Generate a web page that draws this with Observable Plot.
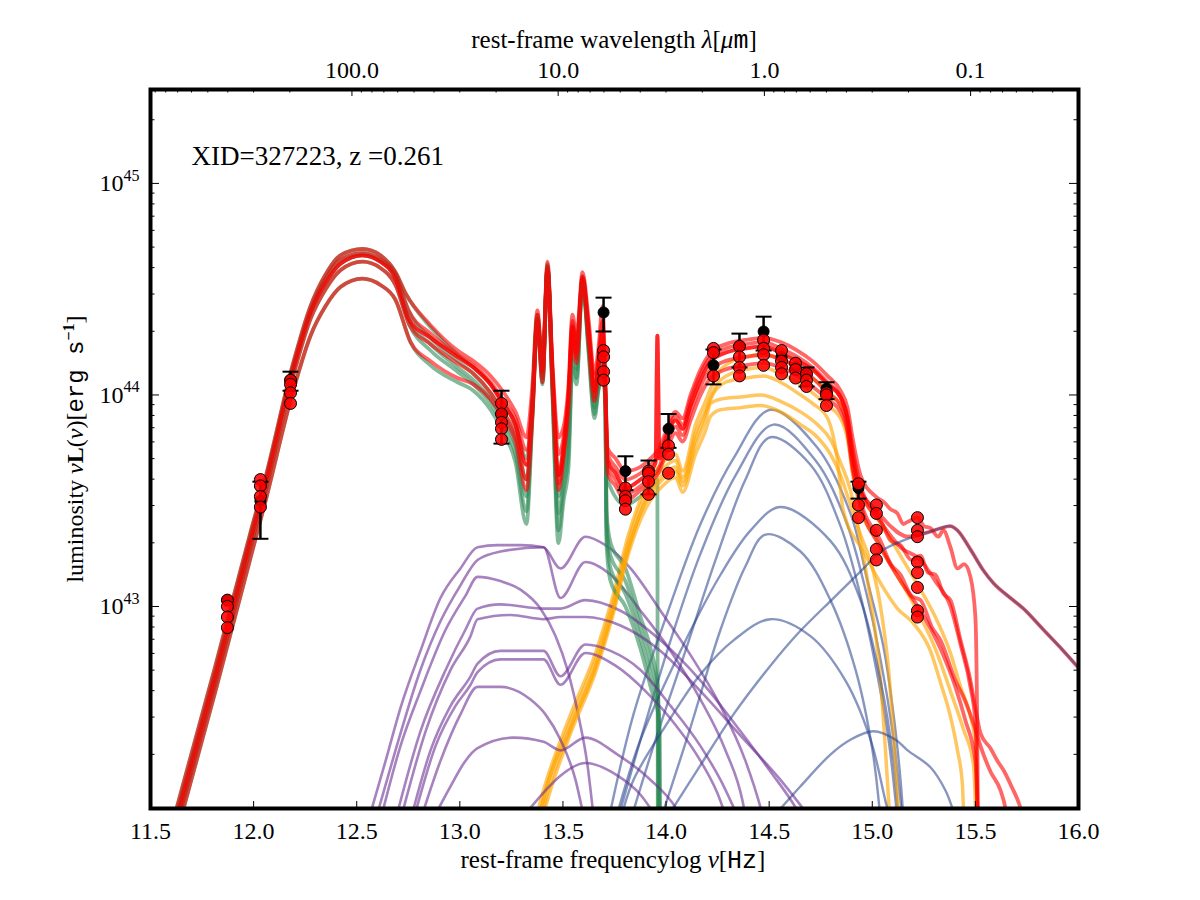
<!DOCTYPE html>
<html><head><meta charset="utf-8">
<script src="https://cdn.jsdelivr.net/npm/d3@7"></script>
<script src="https://cdn.jsdelivr.net/npm/@observablehq/plot@0.6"></script>
<style>body{margin:0;background:#fff} svg{display:block}</style>
</head><body><div id="chart"></div>
<script>
// ---------------- chart values (log10 nu [Hz], log10 nuL_nu [erg/s]) ----------------
const title = "XID=327223, z =0.261";
const xTicks = [11.5,12.0,12.5,13.0,13.5,14.0,14.5,15.0,15.5,16.0];
const lambdaTicks = [100, 10, 1, 0.1];          // micron
const lambdaLabels = ["100.0","10.0","1.0","0.1"];
const yDecades = [43, 44, 45];

// far-IR part shared by starburst and total realisations
const FIR = [
 [[11.60,41.95],[11.815,42.72],[11.985,43.35],[12.058,43.61],[12.189,44.14],[12.276,44.42],[12.349,44.57],[12.421,44.66],[12.528,44.69],[12.615,44.66],[12.688,44.58],[12.737,44.48]],
 [[11.60,41.92],[11.815,42.69],[11.985,43.33],[12.058,43.59],[12.189,44.12],[12.276,44.40],[12.349,44.55],[12.421,44.64],[12.528,44.67],[12.615,44.64],[12.688,44.57],[12.751,44.40]],
 [[11.60,41.90],[11.815,42.67],[11.985,43.31],[12.058,43.58],[12.189,44.11],[12.276,44.39],[12.349,44.53],[12.421,44.62],[12.528,44.66],[12.615,44.63],[12.688,44.55],[12.751,44.36]],
 [[11.60,41.87],[11.815,42.64],[11.985,43.28],[12.058,43.55],[12.189,44.08],[12.276,44.36],[12.349,44.50],[12.421,44.59],[12.528,44.63],[12.615,44.60],[12.688,44.52],[12.756,44.33]],
 [[11.60,41.83],[11.815,42.60],[11.985,43.23],[12.058,43.50],[12.189,44.01],[12.276,44.28],[12.349,44.42],[12.421,44.51],[12.528,44.55],[12.615,44.52],[12.688,44.45],[12.761,44.25]]
];
// total model, mid-IR
const TOT_MIR = [
 [[12.858,44.33],[12.989,44.21],[13.066,44.16],[13.149,44.09],[13.207,44.02],[13.270,43.92],[13.323,43.80],[13.352,44.05],[13.376,44.40],[13.401,44.15],[13.425,44.63],[13.449,44.15],[13.478,43.80],[13.503,43.85],[13.527,44.05],[13.546,44.38],[13.566,44.28],[13.595,44.58],[13.624,44.36],[13.653,44.10],[13.672,44.22],[13.692,44.42],[13.706,44.05],[13.716,43.75],[13.755,43.70],[13.803,43.64],[13.876,43.66],[13.925,43.70],[13.968,43.75]],
 [[12.858,44.29],[12.989,44.19],[13.066,44.14],[13.149,44.06],[13.207,43.98],[13.270,43.89],[13.323,43.74],[13.352,43.99],[13.376,44.38],[13.401,44.13],[13.425,44.61],[13.449,44.13],[13.478,43.72],[13.503,43.80],[13.527,44.01],[13.546,44.35],[13.566,44.24],[13.595,44.56],[13.624,44.33],[13.653,44.06],[13.672,44.18],[13.692,44.35],[13.706,44.02],[13.716,43.72],[13.755,43.66],[13.803,43.60],[13.876,43.63],[13.925,43.67],[13.968,43.72]],
 [[12.858,44.27],[12.989,44.18],[13.066,44.13],[13.149,44.05],[13.207,43.96],[13.270,43.86],[13.323,43.67],[13.352,43.95],[13.376,44.36],[13.401,44.11],[13.425,44.60],[13.449,44.10],[13.478,43.62],[13.503,43.76],[13.527,43.99],[13.546,44.32],[13.566,44.20],[13.595,44.55],[13.624,44.30],[13.653,44.02],[13.672,44.15],[13.692,44.30],[13.706,44.00],[13.716,43.69],[13.755,43.63],[13.803,43.56],[13.876,43.60],[13.925,43.64],[13.949,43.68],[13.958,44.28],[13.968,43.70]],
 [[12.858,44.24],[12.989,44.15],[13.066,44.10],[13.149,44.01],[13.207,43.92],[13.270,43.82],[13.323,43.60],[13.352,43.92],[13.376,44.35],[13.401,44.08],[13.425,44.59],[13.449,44.07],[13.478,43.58],[13.503,43.72],[13.527,43.96],[13.546,44.28],[13.566,44.17],[13.595,44.54],[13.624,44.27],[13.653,43.99],[13.672,44.12],[13.692,44.25],[13.706,43.98],[13.716,43.66],[13.755,43.60],[13.803,43.53],[13.876,43.57],[13.925,43.61],[13.968,43.66]],
 [[12.858,44.16],[12.989,44.08],[13.066,44.05],[13.149,43.98],[13.207,43.90],[13.270,43.78],[13.323,43.55],[13.352,43.90],[13.376,44.34],[13.401,44.06],[13.425,44.59],[13.449,44.05],[13.478,43.55],[13.503,43.70],[13.527,43.94],[13.546,44.25],[13.566,44.15],[13.595,44.53],[13.624,44.25],[13.653,43.97],[13.672,44.10],[13.692,44.22],[13.706,43.96],[13.716,43.63],[13.755,43.57],[13.803,43.50],[13.876,43.55],[13.925,43.59],[13.968,43.64]]
];
// total model, near-IR to UV
const TOT_OPT = [
 [[13.997,43.82],[14.046,43.92],[14.080,43.89],[14.119,44.00],[14.167,44.12],[14.216,44.20],[14.288,44.24],[14.385,44.26],[14.473,44.27],[14.555,44.25],[14.637,44.21],[14.710,44.16],[14.783,44.09],[14.846,44.02],[14.880,43.94],[14.904,43.80],[14.943,43.62],[15.016,43.52],[15.060,43.49],[15.088,43.46],[15.122,43.44],[15.150,43.39],[15.171,43.40],[15.219,43.42],[15.250,43.38],[15.282,43.37],[15.320,43.33],[15.345,43.36],[15.379,43.28],[15.413,43.18],[15.445,43.20],[15.476,43.14],[15.500,42.95],[15.510,42.30],[15.513,41.90]],
 [[13.997,43.80],[14.046,43.90],[14.080,43.86],[14.119,43.98],[14.167,44.10],[14.216,44.18],[14.288,44.22],[14.385,44.24],[14.473,44.25],[14.555,44.22],[14.637,44.18],[14.710,44.13],[14.783,44.06],[14.846,43.99],[14.880,43.90],[14.904,43.75],[14.943,43.57],[15.040,43.41],[15.090,43.31],[15.137,43.29],[15.190,43.22],[15.234,43.24],[15.270,43.16],[15.306,43.15],[15.345,43.06],[15.379,43.03],[15.428,42.84],[15.476,42.65],[15.500,42.52],[15.525,42.40],[15.573,42.33],[15.607,42.27],[15.640,42.22],[15.670,42.16],[15.718,42.05],[15.745,41.95]],
 [[13.997,43.78],[14.046,43.88],[14.080,43.84],[14.119,43.95],[14.167,44.07],[14.216,44.16],[14.288,44.20],[14.385,44.22],[14.473,44.23],[14.555,44.20],[14.637,44.16],[14.710,44.12],[14.783,44.05],[14.846,43.99],[14.880,43.88],[14.904,43.71],[14.943,43.55],[15.040,43.40],[15.137,43.28],[15.234,43.22],[15.306,43.12],[15.379,43.00],[15.428,42.82],[15.476,42.62],[15.500,42.45],[15.512,41.95]],
 [[13.997,43.75],[14.046,43.85],[14.080,43.81],[14.119,43.92],[14.167,44.04],[14.216,44.12],[14.288,44.16],[14.385,44.18],[14.473,44.19],[14.555,44.17],[14.637,44.13],[14.710,44.08],[14.783,44.01],[14.846,43.95],[14.880,43.84],[14.904,43.67],[14.943,43.50],[15.040,43.31],[15.090,43.20],[15.137,43.15],[15.190,43.05],[15.234,43.03],[15.290,42.90],[15.331,42.84],[15.403,42.65],[15.452,42.55],[15.500,42.42],[15.525,42.34],[15.573,42.22],[15.622,42.13],[15.646,42.045],[15.660,41.95]],
 [[13.997,43.72],[14.046,43.82],[14.080,43.78],[14.119,43.88],[14.167,44.00],[14.216,44.08],[14.288,44.12],[14.385,44.14],[14.473,44.15],[14.555,44.13],[14.637,44.09],[14.710,44.04],[14.783,43.98],[14.846,43.92],[14.880,43.82],[14.904,43.65],[14.943,43.48],[15.040,43.28],[15.137,43.12],[15.234,42.98],[15.331,42.80],[15.403,42.62],[15.452,42.46],[15.500,42.27],[15.512,41.95]]
];
// one realisation whose UV is dominated by the accretion disk (dark red line)
const TOT_OPT_DISK = [[13.997,43.78],[14.046,43.88],[14.080,43.84],[14.119,43.95],[14.167,44.07],[14.216,44.16],[14.288,44.20],[14.385,44.22],[14.473,44.23],[14.555,44.20],[14.637,44.16],[14.710,44.12],[14.783,44.05],[14.846,43.99],[14.880,43.88],[14.904,43.71],[14.943,43.55],[15.016,43.46],[15.088,43.38],[15.171,43.33],[15.268,43.35],[15.331,43.37],[15.379,43.38],[15.413,43.36],[15.476,43.27],[15.539,43.17],[15.588,43.11],[15.670,43.04],[15.733,42.99],[15.830,42.89],[15.927,42.79],[16.0,42.71]];
// starburst, mid-IR (PAH) part
const SB_MIR = [
 [[12.858,44.32],[12.989,44.19],[13.066,44.13],[13.149,44.05],[13.207,43.97],[13.270,43.86],[13.323,43.70],[13.352,43.98],[13.376,44.38],[13.401,44.12],[13.425,44.62],[13.449,44.10],[13.478,43.62],[13.503,43.72],[13.527,43.95],[13.546,44.33],[13.566,44.24],[13.595,44.56],[13.624,44.30],[13.653,44.02],[13.672,44.12],[13.692,44.20],[13.706,44.05],[13.716,43.60],[13.803,43.48],[13.876,43.52],[13.925,43.56],[13.958,43.60],[13.960,41.90]],
 [[12.858,44.27],[12.989,44.16],[13.066,44.10],[13.149,44.01],[13.207,43.92],[13.270,43.80],[13.323,43.60],[13.352,43.95],[13.376,44.37],[13.401,44.10],[13.425,44.61],[13.449,44.07],[13.478,43.52],[13.503,43.65],[13.527,43.88],[13.546,44.28],[13.566,44.18],[13.595,44.55],[13.624,44.27],[13.653,43.98],[13.672,44.08],[13.692,44.16],[13.706,44.00],[13.711,43.45],[13.731,43.30],[13.803,43.18],[13.876,42.95],[13.925,42.80],[13.960,42.62],[13.963,41.90]],
 [[12.858,44.24],[12.989,44.13],[13.066,44.07],[13.149,43.98],[13.207,43.89],[13.270,43.76],[13.323,43.52],[13.352,43.93],[13.376,44.36],[13.401,44.08],[13.425,44.60],[13.449,44.04],[13.478,43.44],[13.503,43.60],[13.527,43.80],[13.546,44.22],[13.566,44.12],[13.595,44.54],[13.624,44.24],[13.653,43.94],[13.672,44.05],[13.692,44.13],[13.706,43.98],[13.711,43.40],[13.731,43.24],[13.803,43.12],[13.876,42.90],[13.925,42.74],[13.963,42.56],[13.966,41.90]],
 [[12.858,44.21],[12.989,44.11],[13.066,44.05],[13.149,43.96],[13.207,43.86],[13.270,43.72],[13.323,43.45],[13.352,43.91],[13.376,44.35],[13.401,44.06],[13.425,44.59],[13.449,44.02],[13.478,43.36],[13.503,43.55],[13.527,43.72],[13.546,44.17],[13.566,44.08],[13.595,44.53],[13.624,44.22],[13.653,43.91],[13.672,44.03],[13.692,44.11],[13.706,43.96],[13.711,43.35],[13.731,43.18],[13.803,43.06],[13.876,42.85],[13.925,42.68],[13.966,42.50],[13.969,41.90]],
 [[12.858,44.14],[12.989,44.06],[13.066,44.02],[13.149,43.93],[13.207,43.83],[13.270,43.68],[13.323,43.39],[13.352,43.89],[13.376,44.34],[13.401,44.05],[13.425,44.59],[13.449,44.00],[13.478,43.30],[13.503,43.50],[13.527,43.66],[13.546,44.13],[13.566,44.05],[13.595,44.53],[13.624,44.20],[13.653,43.89],[13.672,44.02],[13.692,44.10],[13.706,43.95],[13.711,43.30],[13.731,43.12],[13.803,43.00],[13.876,42.80],[13.925,42.62],[13.969,42.45],[13.972,41.90]]
];
// host galaxy (stellar) realisations
const HOST = [
 [[13.36,41.96],[13.391,42.08],[13.537,42.49],[13.658,42.78],[13.740,43.04],[13.818,43.34],[13.900,43.56],[13.983,43.68],[14.046,43.72],[14.080,43.64],[14.143,43.86],[14.191,43.97],[14.216,44.03],[14.264,44.12],[14.385,44.18],[14.473,44.19],[14.555,44.17],[14.637,44.13],[14.710,44.08],[14.783,44.02],[14.846,43.95],[14.880,43.87],[14.904,43.72],[14.943,43.55],[15.016,43.43],[15.088,43.32],[15.161,43.20],[15.234,43.08],[15.306,42.95],[15.379,42.78],[15.428,42.62],[15.476,42.48],[15.500,42.35],[15.510,41.90]],
 [[13.37,41.95],[13.391,42.04],[13.537,42.46],[13.658,42.75],[13.740,43.01],[13.818,43.31],[13.900,43.53],[13.983,43.65],[14.046,43.69],[14.080,43.61],[14.143,43.82],[14.191,43.93],[14.216,43.99],[14.264,44.07],[14.385,44.12],[14.473,44.13],[14.555,44.10],[14.637,44.06],[14.710,44.01],[14.783,43.95],[14.846,43.89],[14.880,43.79],[14.904,43.63],[14.943,43.46],[15.016,43.32],[15.088,43.20],[15.161,43.08],[15.234,42.95],[15.306,42.80],[15.379,42.60],[15.442,42.42],[15.491,42.25],[15.505,41.90]],
 [[13.38,41.95],[13.391,42.01],[13.537,42.43],[13.658,42.72],[13.740,42.98],[13.818,43.28],[13.900,43.49],[13.983,43.60],[14.046,43.64],[14.080,43.57],[14.143,43.76],[14.191,43.88],[14.216,43.96],[14.264,43.98],[14.361,43.99],[14.458,44.00],[14.555,43.97],[14.652,43.92],[14.734,43.86],[14.797,43.79],[14.846,43.68],[14.894,43.55],[14.943,43.31],[14.992,43.03],[15.040,42.65],[15.064,42.32],[15.088,41.95]],
 [[13.39,41.95],[13.410,42.03],[13.537,42.40],[13.658,42.69],[13.740,42.95],[13.818,43.25],[13.900,43.46],[13.983,43.57],[14.046,43.61],[14.080,43.54],[14.143,43.72],[14.191,43.83],[14.216,43.90],[14.264,43.93],[14.361,43.94],[14.458,43.95],[14.555,43.92],[14.652,43.86],[14.734,43.80],[14.797,43.72],[14.846,43.62],[14.894,43.48],[14.943,43.34],[15.001,43.18],[15.040,43.00],[15.079,42.70],[15.103,42.40],[15.122,42.10],[15.130,41.95]],
 [[13.38,41.93],[13.400,42.02],[13.537,42.42],[13.658,42.71],[13.740,42.97],[13.818,43.27],[13.900,43.50],[13.983,43.62],[14.046,43.66],[14.080,43.59],[14.143,43.79],[14.191,43.91],[14.216,43.98],[14.288,44.06],[14.385,44.08],[14.473,44.09],[14.555,44.06],[14.637,44.01],[14.710,43.96],[14.783,43.89],[14.830,43.70],[14.860,43.45],[14.958,43.26],[15.040,43.11],[15.122,42.99],[15.200,42.92],[15.282,42.79],[15.331,42.64],[15.379,42.48],[15.413,42.32],[15.437,42.16],[15.445,41.95]]
];
// AGN torus realisations
const TORUS = [
 [[12.557,41.99],[12.640,42.27],[12.712,42.52],[12.809,42.79],[12.906,43.04],[13.003,43.18],[13.086,43.28],[13.183,43.29],[13.294,43.29],[13.406,43.28],[13.488,43.18],[13.609,43.33],[13.706,43.29],[13.828,43.18],[13.973,42.98],[14.119,42.77],[14.264,42.53],[14.385,42.27],[14.458,42.05],[14.482,41.96]],
 [[12.591,41.99],[12.688,42.32],[12.809,42.70],[12.906,42.93],[13.003,43.10],[13.086,43.22],[13.197,43.26],[13.406,43.28],[13.488,43.04],[13.609,43.21],[13.731,43.15],[13.876,42.98],[14.022,42.79],[14.167,42.56],[14.288,42.32],[14.371,42.08],[14.385,42.01]],
 [[12.615,41.99],[12.712,42.34],[12.809,42.60],[12.931,42.89],[13.027,43.05],[13.086,43.14],[13.197,43.12],[13.294,43.08],[13.391,42.99],[13.464,42.86],[13.522,42.70],[13.576,42.48],[13.619,42.25],[13.648,42.01]],
 [[12.688,41.99],[12.809,42.41],[12.931,42.70],[13.027,42.89],[13.086,42.99],[13.197,43.01],[13.406,42.99],[13.488,42.99],[13.609,43.03],[13.779,42.98],[13.973,42.84],[14.167,42.65],[14.361,42.41],[14.506,42.22],[14.628,42.05],[14.652,42.01]],
 [[12.712,41.99],[12.834,42.41],[12.955,42.70],[13.052,42.86],[13.086,42.94],[13.246,42.96],[13.406,42.94],[13.488,42.95],[13.609,42.95],[13.779,42.91],[13.973,42.79],[14.167,42.60],[14.361,42.39],[14.555,42.18],[14.676,42.03]],
 [[12.761,41.99],[12.858,42.32],[12.955,42.53],[13.052,42.67],[13.086,42.73],[13.197,42.79],[13.406,42.79],[13.488,42.67],[13.609,42.82],[13.731,42.79],[13.876,42.70],[14.022,42.53],[14.167,42.34],[14.264,42.18],[14.337,42.03]],
 [[12.775,41.99],[12.882,42.34],[12.979,42.53],[13.052,42.63],[13.086,42.69],[13.197,42.75],[13.406,42.75],[13.488,42.63],[13.609,42.78],[13.755,42.72],[13.900,42.60],[14.046,42.44],[14.167,42.27],[14.264,42.08],[14.288,42.01]],
 [[12.809,41.99],[12.906,42.27],[13.003,42.49],[13.086,42.62],[13.197,42.62],[13.343,42.56],[13.415,42.49],[13.488,42.37],[13.561,42.18],[13.600,42.01]],
 [[12.867,41.99],[12.955,42.15],[13.027,42.27],[13.086,42.33],[13.260,42.38],[13.406,42.36],[13.488,42.32],[13.609,42.38],[13.765,42.30],[13.925,42.18],[14.046,42.05],[14.070,42.01]],
 [[13.294,41.99],[13.415,42.13],[13.488,42.20],[13.609,42.26],[13.765,42.20],[13.876,42.11],[13.949,42.01]]
];
// accretion disk (big blue bump) realisations
const BBB = [
 [[13.721,41.99],[13.842,42.49],[14.007,42.97],[14.167,43.39],[14.327,43.70],[14.506,43.93],[14.734,43.75],[14.894,43.44],[14.977,43.12],[15.054,42.81],[15.103,42.49],[15.137,42.18],[15.151,41.99]],
 [[13.765,41.99],[13.876,42.37],[14.022,42.84],[14.167,43.25],[14.337,43.62],[14.521,43.86],[14.725,43.69],[14.870,43.41],[14.967,43.08],[15.040,42.75],[15.098,42.41],[15.137,42.08],[15.147,41.99]],
 [[13.828,41.99],[13.949,42.37],[14.094,42.79],[14.240,43.22],[14.385,43.60],[14.506,43.80],[14.700,43.67],[14.846,43.38],[14.943,43.05],[15.016,42.72],[15.079,42.37],[15.113,42.08],[15.122,41.99]],
 [[13.755,41.99],[13.876,42.37],[14.070,42.79],[14.264,43.15],[14.410,43.36],[14.555,43.47],[14.797,43.31],[14.943,43.03],[15.040,42.65],[15.103,42.27],[15.127,41.99]],
 [[13.973,41.99],[14.119,42.43],[14.264,42.89],[14.385,43.19],[14.482,43.34],[14.652,43.26],[14.797,43.03],[14.919,42.70],[15.001,42.32],[15.040,41.99]],
 [[13.779,41.99],[13.842,42.18],[14.007,42.45],[14.167,42.68],[14.327,42.84],[14.506,42.94],[14.700,42.86],[14.870,42.65],[14.992,42.37],[15.064,42.08],[15.088,41.99]],
 [[13.997,41.99],[14.167,42.25],[14.327,42.49],[14.506,42.72],[14.637,42.87],[14.812,43.04],[14.958,43.18],[15.040,43.26],[15.171,43.32],[15.268,43.35],[15.331,43.37],[15.379,43.38],[15.413,43.36],[15.476,43.27],[15.539,43.17],[15.588,43.11],[15.670,43.04],[15.733,42.99],[15.830,42.89],[15.927,42.79],[16.0,42.71]],
 [[14.506,41.99],[14.652,42.15],[14.797,42.30],[14.894,42.37],[15.006,42.41],[15.113,42.37],[15.171,42.32],[15.282,42.24],[15.355,42.13],[15.394,42.03],[15.410,41.98]]
];
// observed photometry: log nu, log nuLnu, lower and upper error
const obsNu = [11.873,12.033,12.179,13.202,13.697,13.803,13.915,14.012,14.230,14.356,14.473,14.560,14.628,14.681,14.778,14.933];
const obsL  = [43.03,43.50,44.07,43.91,44.39,43.64,43.63,43.84,44.14,44.23,44.30,44.18,44.13,44.10,44.03,43.56];
const obsLo = [43.03,43.32,44.02,43.77,44.30,43.55,43.53,43.75,44.05,44.13,44.21,44.18,44.13,44.04,43.98,43.51];
const obsHi = [43.03,43.59,44.11,44.02,44.46,43.71,43.69,43.91,44.215,44.29,44.37,44.18,44.13,44.13,44.06,43.59];
// model photometry in each band (one per realisation)
const modelNu = [11.873,12.033,12.179,13.202,13.697,13.803,13.915,14.012,14.230,14.356,14.473,14.560,14.628,14.681,14.778,14.933,15.020,15.219];
const modelL = [
 [43.03,43.00,42.95,42.90],[43.60,43.57,43.52,43.47],[44.07,44.05,44.01,43.96],[43.96,43.91,43.87,43.84,43.79],
 [44.21,44.18,44.11,44.07],[43.56,43.52,43.50,43.46],[43.64,43.63,43.59,43.53],[43.76,43.72,43.63],
 [44.22,44.20,44.09],[44.23,44.18,44.13,44.09],[44.26,44.22,44.19,44.14],[44.21,44.16,44.13,44.10],
 [44.15,44.12,44.08],[44.10,44.07,44.04],[44.01,44.00,43.95],[43.58,43.48,43.42],
 [43.48,43.44,43.36,43.27,43.22],[43.42,43.36,43.33,43.21,43.16,43.09,42.98,42.95]
];

// ---------------- build ----------------
const C = 2.99792458e14; // micron/s
const W = 1200, H = 900, mL = 150, mR = 122, mT = 89, mB = 92;
const pw = W - mL - mR, ph = H - mT - mB;
const xDomain = [11.5, 16.0];
const yDomain = [10 ** 42.045, 10 ** 45.444];
const inX = v => v >= xDomain[0] - 1e-9 && v <= xDomain[1] + 1e-9;

const totals = TOT_MIR.map((m, i) => FIR[i].concat(m, TOT_OPT[i]));
totals.push(FIR[2].concat(TOT_MIR[2], TOT_OPT_DISK));
const starbursts = SB_MIR.map((m, i) => FIR[i].concat(m));

const lx = d => d[0], ly = d => 10 ** d[1];
const lineOpt = (stroke, op, w, curve) => ({x: lx, y: ly, stroke, strokeOpacity: op, strokeWidth: w, curve, clip: true, strokeLinejoin: "round"});

const curveMarks = [];
for (let i = 0; i < 10; i++) {
  if (starbursts[i]) curveMarks.push(Plot.line(starbursts[i], lineOpt("#2e8b57", 0.6, 3.8, "monotone-x")));
  if (BBB[i]) curveMarks.push(Plot.line(BBB[i], lineOpt("#27408b", 0.55, 2.4, "catmull-rom")));
  if (HOST[i]) curveMarks.push(Plot.line(HOST[i], lineOpt("#ffa500", 0.62, 3.5, "monotone-x")));
  if (TORUS[i]) curveMarks.push(Plot.line(TORUS[i], lineOpt("#6b2e92", 0.6, 2.6, "monotone-x")));
  if (totals[i]) curveMarks.push(Plot.line(totals[i], lineOpt("#ff0000", 0.6, 3.8, "monotone-x")));
}

const obs = obsNu.map((nu, i) => ({nu, L: obsL[i], lo: obsLo[i], hi: obsHi[i]}));
const obsErr = obs.filter(d => d.hi > d.lo);
const caps = obsErr.flatMap(d => [{nu: d.nu, v: d.lo}, {nu: d.nu, v: d.hi}]);
const modelPts = modelNu.flatMap((nu, i) => modelL[i].map(v => ({nu, v})));

const capSymbol = {draw(ctx, size) { const r = Math.sqrt(size / Math.PI); ctx.moveTo(-r, 0); ctx.lineTo(r, 0); }};

const yMinor = [];
for (let n = 42; n <= 45; n++) for (let k = 2; k <= 9; k++) { const v = k * 10 ** n; if (v >= yDomain[0] && v <= yDomain[1]) yMinor.push(v); }
const yMajor = yDecades.map(d => 10 ** d);
const lamMinor = [];
for (let n = -2; n <= 2; n++) for (let k = 2; k <= 9; k++) { const l = k * 10 ** n; if (inX(Math.log10(C / l))) lamMinor.push(l); }
const lamX = l => Math.log10(C / l);

const chart = Plot.plot({
  width: W, height: H, marginLeft: mL, marginRight: mR, marginTop: mT, marginBottom: mB,
  x: {domain: xDomain, axis: null},
  y: {type: "log", domain: yDomain, axis: null},
  style: {fontFamily: "'Liberation Serif','Times New Roman',serif", fontSize: "24px", background: "white", color: "black"},
  marks: [
    ...curveMarks,
    Plot.ruleX(obsErr, {x: "nu", y1: d => 10 ** d.lo, y2: d => 10 ** d.hi, stroke: "black", strokeWidth: 2.5}),
    Plot.dot(caps, {x: "nu", y: d => 10 ** d.v, r: 8, symbol: capSymbol, stroke: "black", strokeWidth: 2, fill: "none"}),
    Plot.dot(obs, {x: "nu", y: d => 10 ** d.L, r: 5.5, fill: "black", stroke: "black", strokeWidth: 1}),
    Plot.dot(modelPts, {x: "nu", y: d => 10 ** d.v, r: 6, fill: "#ff0000", fillOpacity: 0.88, stroke: "black", strokeWidth: 1}),
    Plot.tickX(xTicks, {x: d => d, insetTop: ph - 7, stroke: "black", strokeWidth: 1}),
    Plot.tickX(lambdaTicks, {x: lamX, insetBottom: ph - 7, stroke: "black", strokeWidth: 1}),
    Plot.tickX(lamMinor, {x: lamX, insetBottom: ph - 3.5, stroke: "black", strokeWidth: 1}),
    Plot.tickY(yMajor, {y: d => d, insetRight: pw - 9, stroke: "black", strokeWidth: 1}),
    Plot.tickY(yMajor, {y: d => d, insetLeft: pw - 9, stroke: "black", strokeWidth: 1}),
    Plot.tickY(yMinor, {y: d => d, insetRight: pw - 4.5, stroke: "black", strokeWidth: 1}),
    Plot.tickY(yMinor, {y: d => d, insetLeft: pw - 4.5, stroke: "black", strokeWidth: 1}),
    Plot.frame({stroke: "black", strokeWidth: 4}),
    Plot.text(xTicks, {x: d => d, text: d => d.toFixed(1), frameAnchor: "bottom", dy: 30, lineAnchor: "bottom", fontSize: 24}),
    Plot.text(lambdaTicks, {x: lamX, text: (d, i) => lambdaLabels[i], frameAnchor: "top", dy: -12, lineAnchor: "bottom", fontSize: 24}),
    Plot.text(yDecades, {y: d => 10 ** d, text: () => "10", frameAnchor: "left", textAnchor: "end", dx: -27, fontSize: 24}),
    Plot.text(yDecades, {y: d => 10 ** d, text: d => String(d), frameAnchor: "left", textAnchor: "start", dx: -27, dy: -8, fontSize: 16}),
    Plot.text([title], {frameAnchor: "top-left", dx: 41, dy: 75, lineAnchor: "bottom", textAnchor: "start", fontSize: 27})
  ]
});

// axis titles (with math-style formatting)
const svgSel = d3.select(chart);
const mono = "'Liberation Mono','DejaVu Sans Mono',monospace";
const topTitle = svgSel.append("text").attr("x", 614).attr("y", 48).attr("text-anchor", "middle").attr("font-size", 25);
topTitle.append("tspan").text("rest-frame wavelength ");
topTitle.append("tspan").attr("font-style", "italic").text("λ");
topTitle.append("tspan").text("[");
topTitle.append("tspan").attr("font-style", "italic").text("μ");
topTitle.append("tspan").attr("font-family", mono).text("m");
topTitle.append("tspan").text("]");
const botTitle = svgSel.append("text").attr("x", 613).attr("y", 868).attr("text-anchor", "middle").attr("font-size", 25);
botTitle.append("tspan").text("rest-frame frequencylog ");
botTitle.append("tspan").attr("font-style", "italic").text("ν");
botTitle.append("tspan").text("[");
botTitle.append("tspan").attr("font-family", mono).text("Hz");
botTitle.append("tspan").text("]");
const yTitle = svgSel.append("text").attr("transform", "translate(83,449) rotate(-90)").attr("text-anchor", "middle").attr("font-size", 24);
yTitle.append("tspan").text("luminosity ");
yTitle.append("tspan").attr("font-style", "italic").text("ν");
yTitle.append("tspan").attr("font-weight", "bold").text("L");
yTitle.append("tspan").text("(");
yTitle.append("tspan").attr("font-style", "italic").text("ν");
yTitle.append("tspan").text(")[");
yTitle.append("tspan").attr("font-family", mono).text("erg s");
yTitle.append("tspan").attr("font-weight", "bold").attr("font-size", 16).attr("dy", -9).text("−1");
yTitle.append("tspan").attr("dy", 9).text("]");

document.getElementById("chart").appendChild(chart);
</script>
</body></html>
